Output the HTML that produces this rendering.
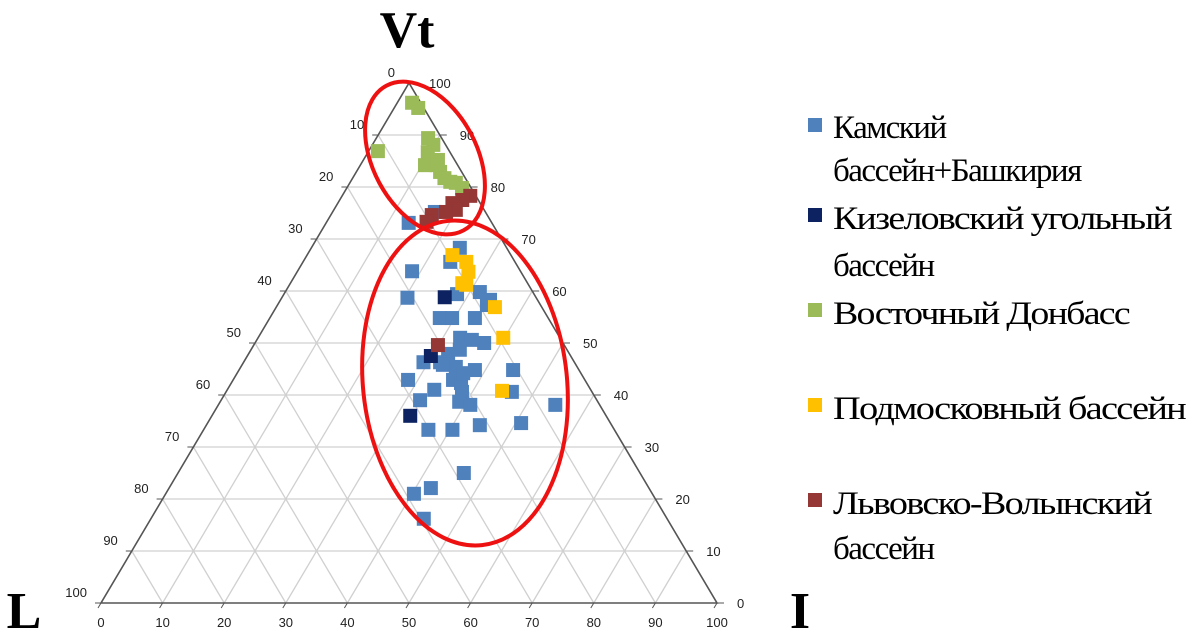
<!DOCTYPE html>
<html><head><meta charset="utf-8"><style>
html,body{margin:0;padding:0;background:#fff;}
svg{display:block;}
.t{font-family:"Liberation Sans",sans-serif;font-size:13px;fill:#222;}
.lg{font-family:"Liberation Serif",serif;font-size:33px;fill:#000;letter-spacing:-1.5px;}
</style></head><body>
<svg id="chart" width="1190" height="635" viewBox="0 0 1190 635" xmlns="http://www.w3.org/2000/svg">
<g id="grid"></g>
<g id="axes"></g>
<g id="pts"></g>
<ellipse cx="425" cy="158" rx="52" ry="82" transform="rotate(-28 425 158)" fill="none" stroke="#ee1111" stroke-width="4"/>
<ellipse cx="465" cy="383" rx="102" ry="163" transform="rotate(-6 465 383)" fill="none" stroke="#ee1111" stroke-width="4"/>
<text x="407" y="47" text-anchor="middle" font-family="Liberation Serif,serif" font-weight="bold" font-size="52">Vt</text>
<text x="24" y="628" text-anchor="middle" font-family="Liberation Serif,serif" font-weight="bold" font-size="52">L</text>
<text x="800" y="628" text-anchor="middle" font-family="Liberation Serif,serif" font-weight="bold" font-size="52">I</text>
<g>
<rect x="808" y="118" width="14" height="14" fill="#4F81BD"/>
<text class="lg" x="833" y="138">Камский</text>
<text class="lg" x="833" y="181">бассейн+Башкирия</text>
<rect x="808" y="208" width="14" height="14" fill="#0D2260"/>
<text class="lg" x="833" y="229" textLength="338" lengthAdjust="spacingAndGlyphs">Кизеловский угольный</text>
<text class="lg" x="833" y="276">бассейн</text>
<rect x="808" y="303" width="14" height="14" fill="#9BBB59"/>
<text class="lg" x="833" y="324" textLength="296" lengthAdjust="spacingAndGlyphs">Восточный Донбасс</text>
<rect x="808" y="398" width="14" height="14" fill="#FFC000"/>
<text class="lg" x="833" y="419" textLength="352" lengthAdjust="spacingAndGlyphs">Подмосковный бассейн</text>
<rect x="808" y="493" width="14" height="14" fill="#953735"/>
<text class="lg" x="833" y="514" textLength="318" lengthAdjust="spacingAndGlyphs">Львовско-Волынский</text>
<text class="lg" x="833" y="559">бассейн</text>
</g>
</svg>
<script>
// values: [Vt, I] in percent
const kamaVt=[73.1,75.2,68.3,65.6,63.8,58.7,59.4,59.8,58.3,57.3,54.8,54.8,54.8,51.0,50.6,50.0,48.7,47.9,46.3,46.3,45.4,44.8,42.9,42.9,42.3,44.8,41.0,40.6,39.0,38.7,38.1,40.6,38.1,33.3,33.3,34.2,34.6,25.0,21.0,22.1,16.2,45.8,44.2];
const kamaI=[13.4,16.6,24.1,23.9,18.6,20.4,28.1,31.6,34.0,34.0,27.6,29.6,33.3,32.8,34.9,37.2,33.9,32.4,29.2,31.9,34.9,38.3,28.4,35.7,37.3,44.5,33.6,38.3,32.3,38.8,40.9,46.4,54.7,36.5,40.4,44.4,50.9,46.4,40.3,42.5,44.3,32.6,36.7];
const kizelVt=[58.8,47.5,36.0];
const kizelI=[26.4,29.8,32.2];
const donbassVt=[96.2,95.2,86.9,89.4,88.1,86.7,84.2,85.2,84.2,82.9,81.7,81.0,80.8,79.8,85.2];
const donbassI=[2.4,3.9,1.5,8.4,9.9,9.7,10.5,10.8,12.4,13.6,14.9,16.2,17.2,18.7,12.1];
const moscowVt=[66.9,65.6,63.7,61.5,61.2,56.9,51.0,40.8];
const moscowI=[23.6,26.5,27.8,27.9,28.7,35.5,39.8,44.7];
const lvivVt=[78.3,77.5,76.9,75.6,75.2,74.6,73.3,49.6];
const lvivI=[20.8,19.9,18.6,19.8,18.4,16.4,16.2,29.9];
const ticks=[0,10,20,30,40,50,60,70,80,90,100];

const NS="http://www.w3.org/2000/svg";
const X0=101,Y0=603,W=616,H=520;
function px(vt,i){return X0+(i+vt/2)*W/100;}
function py(vt){return Y0-vt*H/100;}
function mk(tag,attrs,parent){const e=document.createElementNS(NS,tag);for(const k in attrs)e.setAttribute(k,attrs[k]);parent.appendChild(e);return e;}
const grid=document.getElementById('grid'),axes=document.getElementById('axes'),pts=document.getElementById('pts');
for(let k=1;k<10;k++){
  const v=k*10;
  // horizontal (constant Vt)
  let l=mk('line',{x1:px(v,0),y1:py(v),x2:px(v,100-v),y2:py(v),stroke:'#d0d0d0','stroke-width':1.3},grid);
  
  
  // constant I
  l=mk('line',{x1:px(0,v),y1:py(0),x2:px(100-v,v),y2:py(100-v),stroke:'#d0d0d0','stroke-width':1.3},grid);
  
  
  // constant L
  l=mk('line',{x1:px(0,100-v),y1:py(0),x2:px(100-v,0),y2:py(100-v),stroke:'#d0d0d0','stroke-width':1.3},grid);
  
  
}
const tri=mk('polygon',{points:`${px(0,0)},${py(0)} ${px(0,100)},${py(0)} ${px(100,0)},${py(100)}`,fill:'none',stroke:'#555','stroke-width':1.6},axes);


ticks.forEach(v=>{
  // bottom axis
  let t=mk('text',{class:'t',x:px(0,v),y:627,'text-anchor':'middle'},axes);t.textContent=v;
  
  
  mk('line',{x1:px(0,v),y1:Y0,x2:px(0,v)-3,y2:Y0+5,stroke:'#555'},axes);
  // left axis (0 at top)
  const vl=100-v;
  t=mk('text',{class:'t',x:px(vl,0)-14,y:py(vl)-6,'text-anchor':'end'},axes);t.textContent=v;
  
  
  mk('line',{x1:px(vl,0),y1:py(vl),x2:px(vl,0)-6,y2:py(vl),stroke:'#555'},axes);
  // right axis (Vt)
  t=mk('text',{class:'t',x:px(v,100-v)+20,y:py(v)+5,'text-anchor':'start'},axes);t.textContent=v;
  
  
  mk('line',{x1:px(v,100-v),y1:py(v),x2:px(v,100-v)+7,y2:py(v),stroke:'#555'},axes);
});
function series(vts,is,color,name){
  vts.forEach((vt,j)=>{
    const r=mk('rect',{x:px(vt,is[j])-7,y:py(vt)-7,width:14,height:14,fill:color},pts);
    
    
  });
}
series(kamaVt,kamaI,'#4F81BD','point-kama');
series(kizelVt,kizelI,'#0D2260','point-kizel');
series(donbassVt,donbassI,'#9BBB59','point-donbass');
series(lvivVt,lvivI,'#953735','point-lviv');
series(moscowVt,moscowI,'#FFC000','point-moscow');
</script>
</body></html>
